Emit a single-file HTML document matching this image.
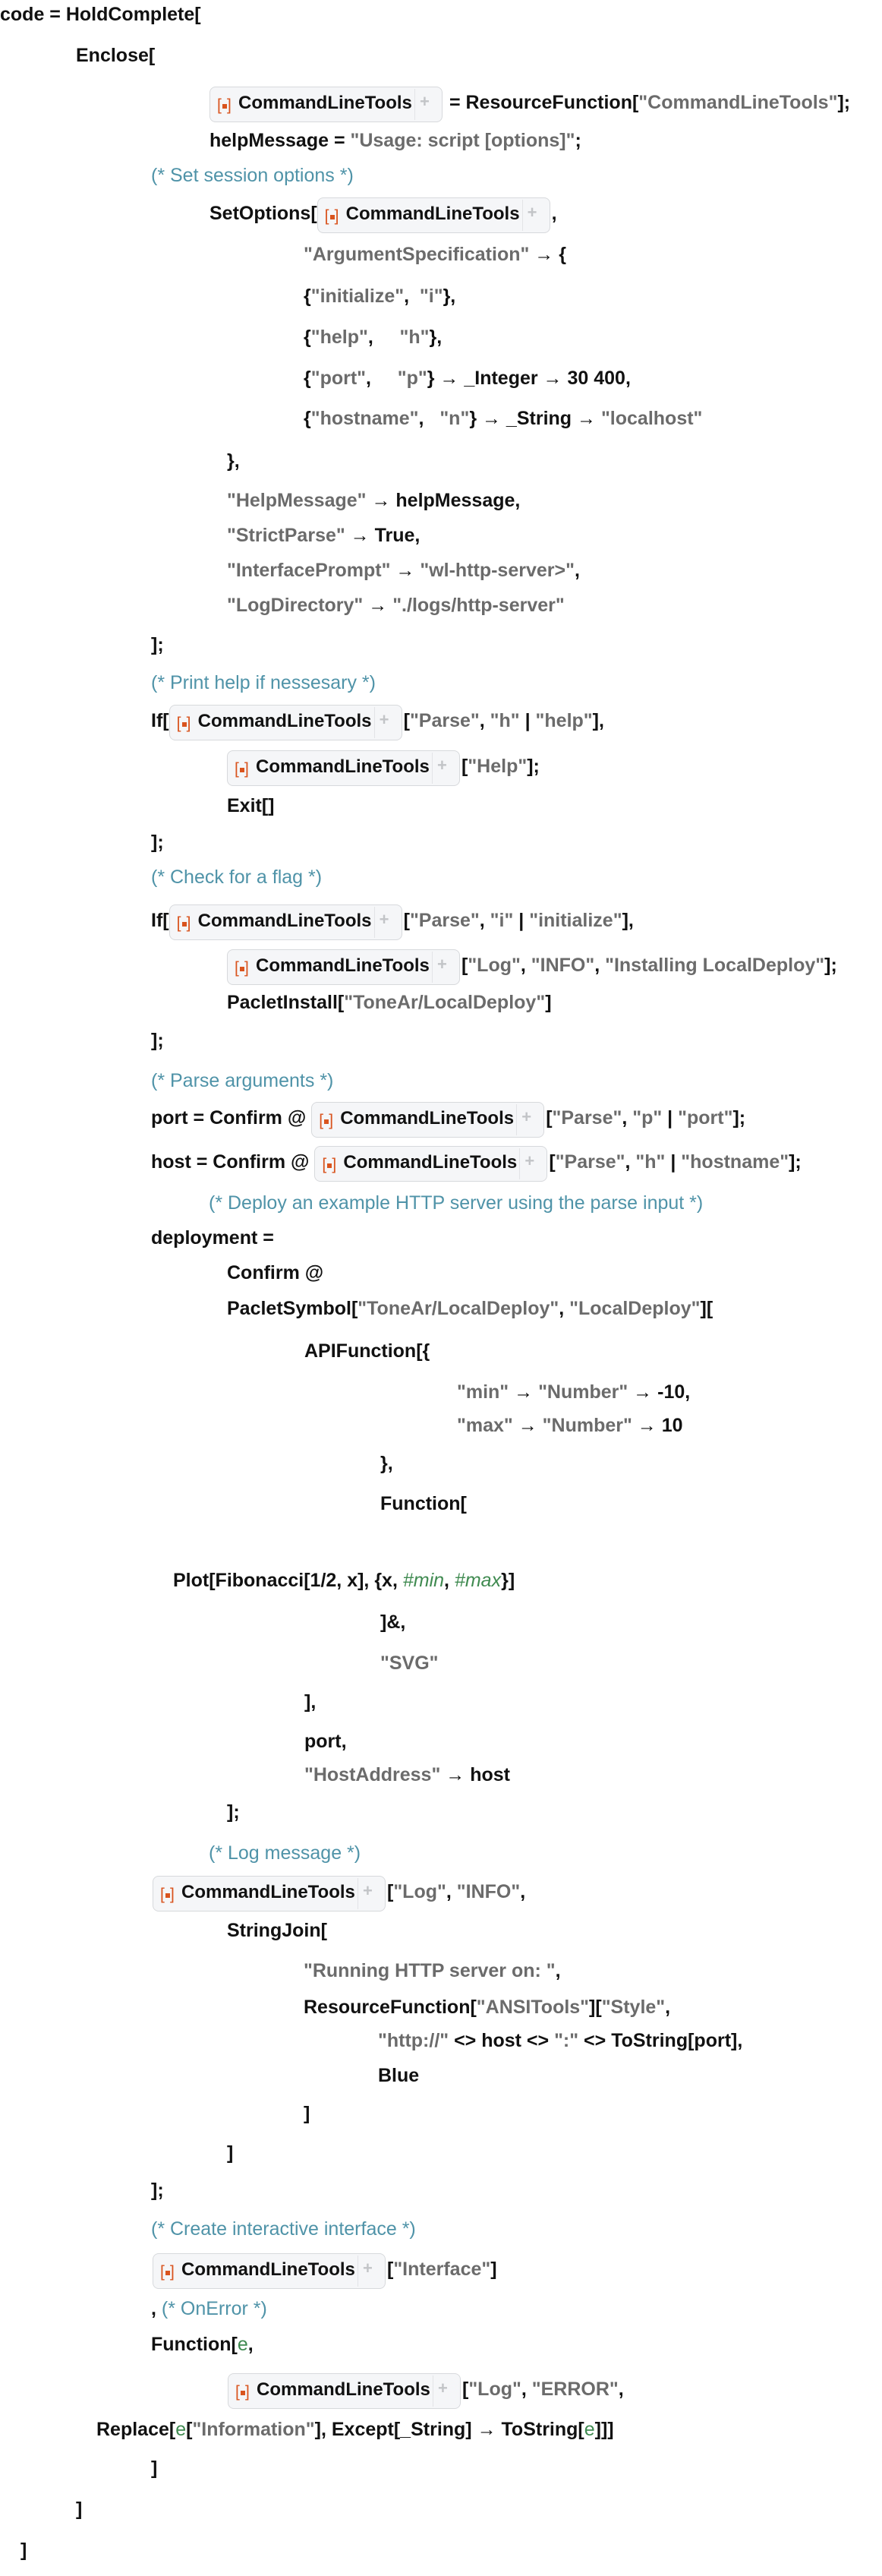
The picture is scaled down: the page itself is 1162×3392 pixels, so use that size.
<!DOCTYPE html>
<html><head><meta charset="utf-8"><style>
html,body{margin:0;padding:0;background:#fff;}
body{width:1162px;height:3392px;position:relative;overflow:hidden;}
.l{position:absolute;white-space:pre;font-family:"Liberation Sans",sans-serif;font-size:25px;font-weight:bold;line-height:27px;color:#111;}
.s{color:#6b6b6b;}
.c{color:#4f93a8;font-weight:normal;font-size:25px;}
.g{color:#3f8a50;font-style:italic;font-weight:normal;}
.b{display:inline-block;position:relative;width:268px;padding:7px 0 11px 37px;background:#f5f6f8;border:1.5px solid #d7d9dc;border-radius:8px;vertical-align:baseline;margin-right:2px;font-size:24px;}
.b .ic{position:absolute;left:9px;top:13px;width:20px;height:22px;font-size:21px;line-height:22px;color:#d9541e;font-weight:normal;}
.b .ic i{position:absolute;left:7px;top:9px;width:6px;height:6px;background:#d9541e;}
.b .ic .r{position:absolute;left:13px;top:0;}
.b .dv{position:absolute;left:269px;top:2px;bottom:2px;width:1px;background:#e3e4e7;}
.b .pl{position:absolute;left:276px;top:5px;font-size:22px;color:#c2c4c7;}
</style></head><body>
<div class="l" style="left:0;top:6px">code = HoldComplete[</div>
<div class="l" style="left:100px;top:60px">Enclose[</div>
<div class="l" style="left:276px;top:114px"><span class="b"><span class="ic">[<i></i><span class="r">]</span></span>CommandLineTools<span class="dv"></span><span class="pl">+</span></span> = ResourceFunction[<span class="s">"CommandLineTools"</span>];</div>
<div class="l" style="left:276px;top:172px">helpMessage = <span class="s">"Usage: script [options]"</span>;</div>
<div class="l c" style="left:199px;top:218px">(* Set session options *)</div>
<div class="l" style="left:276px;top:260px">SetOptions[<span class="b"><span class="ic">[<i></i><span class="r">]</span></span>CommandLineTools<span class="dv"></span><span class="pl">+</span></span>,</div>
<div class="l" style="left:400px;top:322px"><span class="s">"ArgumentSpecification"</span> → {</div>
<div class="l" style="left:400px;top:377px">{<span class="s">"initialize"</span>,  <span class="s">"i"</span>},</div>
<div class="l" style="left:400px;top:431px">{<span class="s">"help"</span>,     <span class="s">"h"</span>},</div>
<div class="l" style="left:400px;top:485px">{<span class="s">"port"</span>,     <span class="s">"p"</span>} → _Integer → 30 400,</div>
<div class="l" style="left:400px;top:538px">{<span class="s">"hostname"</span>,   <span class="s">"n"</span>} → _String → <span class="s">"localhost"</span></div>
<div class="l" style="left:299px;top:594px">},</div>
<div class="l" style="left:299px;top:646px"><span class="s">"HelpMessage"</span> → helpMessage,</div>
<div class="l" style="left:299px;top:692px"><span class="s">"StrictParse"</span> → True,</div>
<div class="l" style="left:299px;top:738px"><span class="s">"InterfacePrompt"</span> → <span class="s">"wl-http-server&gt;"</span>,</div>
<div class="l" style="left:299px;top:784px"><span class="s">"LogDirectory"</span> → <span class="s">"./logs/http-server"</span></div>
<div class="l" style="left:199px;top:836px">];</div>
<div class="l c" style="left:199px;top:886px">(* Print help if nessesary *)</div>
<div class="l" style="left:199px;top:928px">If[<span class="b"><span class="ic">[<i></i><span class="r">]</span></span>CommandLineTools<span class="dv"></span><span class="pl">+</span></span>[<span class="s">"Parse"</span>, <span class="s">"h"</span> | <span class="s">"help"</span>],</div>
<div class="l" style="left:299px;top:988px"><span class="b"><span class="ic">[<i></i><span class="r">]</span></span>CommandLineTools<span class="dv"></span><span class="pl">+</span></span>[<span class="s">"Help"</span>];</div>
<div class="l" style="left:299px;top:1048px">Exit[]</div>
<div class="l" style="left:199px;top:1096px">];</div>
<div class="l c" style="left:199px;top:1142px">(* Check for a flag *)</div>
<div class="l" style="left:199px;top:1191px">If[<span class="b"><span class="ic">[<i></i><span class="r">]</span></span>CommandLineTools<span class="dv"></span><span class="pl">+</span></span>[<span class="s">"Parse"</span>, <span class="s">"i"</span> | <span class="s">"initialize"</span>],</div>
<div class="l" style="left:299px;top:1250px"><span class="b"><span class="ic">[<i></i><span class="r">]</span></span>CommandLineTools<span class="dv"></span><span class="pl">+</span></span>[<span class="s">"Log"</span>, <span class="s">"INFO"</span>, <span class="s">"Installing LocalDeploy"</span>];</div>
<div class="l" style="left:299px;top:1307px">PacletInstall[<span class="s">"ToneAr/LocalDeploy"</span>]</div>
<div class="l" style="left:199px;top:1357px">];</div>
<div class="l c" style="left:199px;top:1410px">(* Parse arguments *)</div>
<div class="l" style="left:199px;top:1451px">port = Confirm @ <span class="b"><span class="ic">[<i></i><span class="r">]</span></span>CommandLineTools<span class="dv"></span><span class="pl">+</span></span>[<span class="s">"Parse"</span>, <span class="s">"p"</span> | <span class="s">"port"</span>];</div>
<div class="l" style="left:199px;top:1509px">host = Confirm @ <span class="b"><span class="ic">[<i></i><span class="r">]</span></span>CommandLineTools<span class="dv"></span><span class="pl">+</span></span>[<span class="s">"Parse"</span>, <span class="s">"h"</span> | <span class="s">"hostname"</span>];</div>
<div class="l c" style="left:275px;top:1571px">(* Deploy an example HTTP server using the parse input *)</div>
<div class="l" style="left:199px;top:1617px">deployment =</div>
<div class="l" style="left:299px;top:1663px">Confirm @</div>
<div class="l" style="left:299px;top:1710px">PacletSymbol[<span class="s">"ToneAr/LocalDeploy"</span>, <span class="s">"LocalDeploy"</span>][</div>
<div class="l" style="left:401px;top:1766px">APIFunction[{</div>
<div class="l" style="left:602px;top:1820px"><span class="s">"min"</span> → <span class="s">"Number"</span> → -10,</div>
<div class="l" style="left:602px;top:1864px"><span class="s">"max"</span> → <span class="s">"Number"</span> → 10</div>
<div class="l" style="left:501px;top:1914px">},</div>
<div class="l" style="left:501px;top:1967px">Function[</div>
<div class="l" style="left:228px;top:2068px">Plot[Fibonacci[1/2, x], {x, <span class="g">#min</span>, <span class="g">#max</span>}]</div>
<div class="l" style="left:501px;top:2123px">]&amp;,</div>
<div class="l" style="left:501px;top:2177px"><span class="s">"SVG"</span></div>
<div class="l" style="left:401px;top:2228px">],</div>
<div class="l" style="left:401px;top:2280px">port,</div>
<div class="l" style="left:401px;top:2324px"><span class="s">"HostAddress"</span> → host</div>
<div class="l" style="left:299px;top:2373px">];</div>
<div class="l c" style="left:275px;top:2427px">(* Log message *)</div>
<div class="l" style="left:201px;top:2470px"><span class="b"><span class="ic">[<i></i><span class="r">]</span></span>CommandLineTools<span class="dv"></span><span class="pl">+</span></span>[<span class="s">"Log"</span>, <span class="s">"INFO"</span>,</div>
<div class="l" style="left:299px;top:2529px">StringJoin[</div>
<div class="l" style="left:400px;top:2582px"><span class="s">"Running HTTP server on: "</span>,</div>
<div class="l" style="left:400px;top:2630px">ResourceFunction[<span class="s">"ANSITools"</span>][<span class="s">"Style"</span>,</div>
<div class="l" style="left:498px;top:2674px"><span class="s">"http://"</span> &lt;&gt; host &lt;&gt; <span class="s">":"</span> &lt;&gt; ToString[port],</div>
<div class="l" style="left:498px;top:2720px">Blue</div>
<div class="l" style="left:400px;top:2770px">]</div>
<div class="l" style="left:299px;top:2822px">]</div>
<div class="l" style="left:199px;top:2871px">];</div>
<div class="l c" style="left:199px;top:2922px">(* Create interactive interface *)</div>
<div class="l" style="left:201px;top:2967px"><span class="b"><span class="ic">[<i></i><span class="r">]</span></span>CommandLineTools<span class="dv"></span><span class="pl">+</span></span>[<span class="s">"Interface"</span>]</div>
<div class="l" style="left:199px;top:3027px">, <span class="c">(* OnError *)</span></div>
<div class="l" style="left:199px;top:3074px">Function[<span class="g" style="font-style:normal">e</span>,</div>
<div class="l" style="left:300px;top:3125px"><span class="b"><span class="ic">[<i></i><span class="r">]</span></span>CommandLineTools<span class="dv"></span><span class="pl">+</span></span>[<span class="s">"Log"</span>, <span class="s">"ERROR"</span>,</div>
<div class="l" style="left:127px;top:3186px">Replace[<span class="g" style="font-style:normal">e</span>[<span class="s">"Information"</span>], Except[_String] → ToString[<span class="g" style="font-style:normal">e</span>]]]</div>
<div class="l" style="left:199px;top:3237px">]</div>
<div class="l" style="left:100px;top:3291px">]</div>
<div class="l" style="left:27px;top:3345px">]</div>
</body></html>
